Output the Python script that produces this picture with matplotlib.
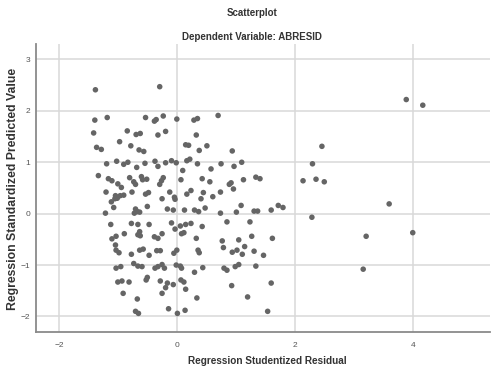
import numpy as np
import matplotlib
matplotlib.use("Agg")
from matplotlib import pyplot as plt

# studentized residual (x) vs standardized predicted value (y)
resid = [-1.39, -0.30, -1.40, -1.19, -0.54, -0.39, -0.36, -0.24, -0.01, 0.28,
         0.34, 0.69, -1.42, -0.85, -0.70, -0.63, -0.33, -0.20, 0.32, -0.98,
         -0.79, -1.37, -1.29, -0.65, -0.57, 0.14, 0.19, 0.37, 0.50, 0.93,
         -1.20, -1.03, -0.91, -0.84, -0.69, -0.55, -0.38, -0.33, -0.20, -0.10,
         -0.02, 0.16, 0.21, 0.09, 0.34, 0.57, 0.74, 0.96, 1.09, -1.34,
         -1.17, -1.11, -1.01, -0.95, -0.81, -0.74, -0.71, -0.61, -0.59, -0.52,
         -0.24, -0.27, -0.30, 0.06, 0.42, 0.55, 0.88, 0.91, 0.95, 1.12,
         1.33, 1.40, -1.21, -1.05, -1.02, -0.97, -0.91, -1.06, -1.12, -0.77,
         -0.54, -0.49, -0.26, -0.13, -0.05, -0.04, 0.16, 0.23, 0.44, 0.73,
         0.60, 0.40, -1.08, -1.22, -0.73, -0.68, -0.64, -0.71, -0.51, -0.17,
         -0.07, 0.12, 0.29, 0.36, 0.47, 0.73, 1.00, 1.08, 1.30, 1.36,
         1.59, 1.71, 1.79, -1.13, -0.78, -0.67, -0.48, -0.10, -0.04, 0.05,
         0.14, 0.23, 0.07, 0.11, -1.11, -1.04, -0.90, -0.64, -0.67, -0.63,
         -0.39, -0.33, -0.26, 0.42, 0.84, 1.23, 0.32, 0.76, 0.78, 1.04,
         1.26, 1.61, -1.05, -1.04, -0.99, -0.78, -0.64, -0.58, -0.48, -0.35,
         -0.29, -0.06, -0.01, 0.35, 0.37, 0.93, 1.01, 1.10, 1.14, 1.30,
         1.46, -1.04, -0.96, -0.74, -0.67, -0.60, -0.38, -0.33, -0.26, -0.22,
         -0.02, 0.05, 0.07, 0.29, 0.43, 0.79, 0.84, 0.98, 1.04, 1.33,
         -1.01, -0.94, -0.82, -0.53, -0.51, -0.29, -0.17, -0.20, -0.07, 0.06,
         0.11, 0.14, 0.92, 1.59, -0.26, -0.92, -0.68, 0.33, 1.19, -0.71,
         -0.66, -0.15, 0.00, 0.13, 1.53, 3.88, 4.16, 2.45, 2.29, 2.13,
         2.35, 2.49, 3.59, 2.28, 3.20, 3.99, 3.15]
pred = [2.41, 2.47, 1.82, 1.87, 1.87, 1.80, 1.83, 1.90, 1.84, 1.82,
        1.85, 1.91, 1.57, 1.61, 1.54, 1.56, 1.53, 1.60, 1.53, 1.40,
        1.32, 1.29, 1.25, 1.24, 1.21, 1.34, 1.33, 1.23, 1.32, 1.22,
        0.97, 1.02, 0.96, 1.00, 0.90, 0.98, 1.02, 0.92, 0.99, 1.03,
        0.99, 1.03, 1.06, 0.84, 0.97, 0.87, 0.97, 0.92, 1.00, 0.74,
        0.68, 0.64, 0.58, 0.51, 0.70, 0.62, 0.57, 0.72, 0.66, 0.67,
        0.70, 0.64, 0.57, 0.66, 0.68, 0.62, 0.57, 0.60, 0.48, 0.66,
        0.71, 0.68, 0.42, 0.35, 0.30, 0.35, 0.36, 0.29, 0.23, 0.42,
        0.38, 0.41, 0.29, 0.42, 0.32, 0.28, 0.38, 0.45, 0.41, 0.42,
        0.33, 0.29, 0.12, 0.01, 0.01, 0.04, 0.03, 0.09, 0.14, 0.09,
        0.07, 0.07, 0.07, 0.04, 0.11, 0.01, 0.03, 0.16, 0.05, 0.05,
        0.07, 0.16, 0.12, -0.21, -0.19, -0.21, -0.21, -0.18, -0.30, -0.24,
        -0.21, -0.19, -0.39, -0.37, -0.49, -0.44, -0.39, -0.35, -0.41, -0.43,
        -0.45, -0.48, -0.39, -0.25, -0.16, -0.16, -0.48, -0.53, -0.66, -0.51,
        -0.44, -0.48, -0.61, -0.71, -0.76, -0.79, -0.71, -0.69, -0.81, -0.72,
        -0.72, -0.77, -0.71, -0.71, -0.76, -0.75, -0.71, -0.79, -0.64, -0.73,
        -0.81, -1.06, -1.03, -0.97, -1.02, -1.03, -1.06, -1.03, -0.99, -1.06,
        -1.00, -1.02, -1.06, -1.14, -1.05, -1.06, -1.10, -1.03, -0.99, -1.02,
        -1.33, -1.31, -1.33, -1.29, -1.24, -1.31, -1.35, -1.44, -1.38, -1.29,
        -1.33, -1.47, -1.40, -1.35, -1.55, -1.55, -1.66, -1.64, -1.62, -1.90,
        -1.94, -1.85, -1.94, -1.88, -1.90, 2.22, 2.11, 1.31, 0.97, 0.64,
        0.67, 0.62, 0.19, -0.07, -0.44, -0.37, -1.08]

xticks = [-2, 0, 2, 4]
yticks = [-2, -1, 0, 1, 2, 3]

plt.rcParams['font.family'] = ['Liberation Sans', 'DejaVu Sans']

fig = plt.figure(figsize=(4.91, 3.70), dpi=100)
ax = fig.add_axes([0.073, 0.103, 0.925, 0.778])

ax.scatter(resid, pred, s=16, color='#656565', edgecolors='none', zorder=3)

ax.set_xlim(-2.4, 5.3)
ax.set_ylim(-2.3, 3.3)
ax.set_xticks(xticks)
ax.set_yticks(yticks)
ax.grid(True, color='#d8d8d8', linewidth=1.1, zorder=0)
ax.set_axisbelow(True)
ax.tick_params(length=0, labelsize=6, colors='#555555', pad=4)
ax.tick_params(axis='x', pad=7)

for s in ['top', 'right']:
    ax.spines[s].set_visible(False)
for s in ['left', 'bottom']:
    ax.spines[s].set_color('#8a8a8a')
    ax.spines[s].set_linewidth(1.3)

fig.text(0.513, 0.965, 'Scatterplot', ha='center', va='center',
         fontsize=7, fontweight='bold', color='#333333')
fig.text(0.513, 0.900, 'Dependent Variable: ABRESID', ha='center', va='center',
         fontsize=7, fontweight='bold', color='#333333')
fig.text(0.544, 0.024, 'Regression Studentized Residual', ha='center',
         va='center', fontsize=7.2, fontweight='bold', color='#333333')
fig.text(0.027, 0.49, 'Regression Standardized Predicted Value', ha='center',
         va='center', rotation=90, fontsize=8.8, fontweight='bold',
         color='#333333')

fig.savefig('out.png', dpi=100)
